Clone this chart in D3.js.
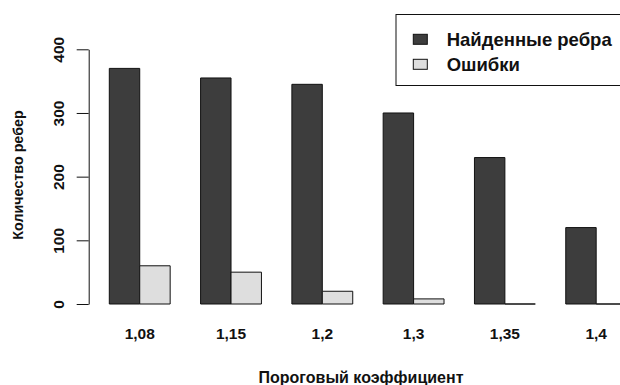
<!DOCTYPE html>
<html><head><meta charset="utf-8">
<script src="https://cdn.jsdelivr.net/npm/d3@7"></script>
<style>body{margin:0;background:#fff}svg{display:block}text{font-family:"Liberation Sans",Arial,sans-serif}</style>
</head><body>
<svg id="c" width="620" height="385"></svg>
<script>
const categories = ["1,08","1,15","1,2","1,3","1,35","1,4"];
const found = [370, 355, 345, 300, 230, 120];
const errors = [60, 50, 20, 8, 0, 0];
const seriesNames = ["Найденные ребра","Ошибки"];
const yTicks = [0,100,200,300,400];
const colors = ["#3d3d3d","#dedede"];

const svg = d3.select("#c");
const y = d3.scaleLinear().domain([0,400]).range([304,49.3]);
// bar units as in R barplot (space between groups = 1 bar width)
const x = d3.scaleLinear().domain([1,19]).range([109.3,109.3+18*30.43]);

const data = [];
categories.forEach((c,i)=>{
  data.push({u:1+3*i, v:found[i], s:0});
  data.push({u:2+3*i, v:errors[i], s:1});
});
svg.append("g").selectAll("path").data(data).join("path")
  .attr("d", d=>{
    const x0=x(d.u), x1=x(d.u+1), y0=y(0), y1=y(d.v);
    return `M${x0},${y0}V${y1}H${x1}V${y0}Z`;
  })
  .attr("fill", d=>colors[d.s]).attr("stroke","#111").attr("stroke-width",1);

// y axis
const ya = svg.append("g").attr("transform","translate(88.7,0)")
  .call(d3.axisLeft(y).tickValues(yTicks).tickSize(12).tickSizeOuter(0).tickPadding(0));
ya.select(".domain").attr("stroke","#111");
ya.selectAll(".tick line").attr("stroke","#111");
ya.selectAll(".tick text").attr("x",0).attr("dy",0)
  .attr("transform","translate(-30,0) rotate(-90)")
  .attr("text-anchor","middle").attr("dominant-baseline","central")
  .attr("font-size",15.5).attr("font-weight","bold").attr("fill","#111");

// x labels
svg.append("g").selectAll("text").data(categories).join("text")
  .attr("x",(d,i)=>x(2+3*i)).attr("y",339)
  .attr("text-anchor","middle").attr("font-size",15.5).attr("font-weight","bold").attr("fill","#111")
  .text(d=>d);

svg.append("text").attr("x",361).attr("y",383).attr("text-anchor","middle")
  .attr("font-size",16).attr("font-weight","bold").attr("fill","#111").text("Пороговый коэффициент");
svg.append("text").attr("transform","translate(23,175) rotate(-90)").attr("text-anchor","middle")
  .attr("font-size",14.3).attr("font-weight","bold").attr("fill","#111").text("Количество ребер");

// legend
const lg = svg.append("g");
lg.append("rect").attr("x",396).attr("y",14.5).attr("width",240).attr("height",71)
  .attr("fill","#fff").attr("stroke","#111");
seriesNames.forEach((n,i)=>{
  const cy = 39.3 + i*25;
  lg.append("rect").attr("x",413.3).attr("y",cy-5).attr("width",14).attr("height",10)
    .attr("fill",colors[i]).attr("stroke","#111");
  lg.append("text").attr("x",446.7).attr("y",cy).attr("dominant-baseline","central")
    .attr("font-size",18.5).attr("font-weight","bold").attr("fill","#111").text(n);
});
</script>
</body></html>
